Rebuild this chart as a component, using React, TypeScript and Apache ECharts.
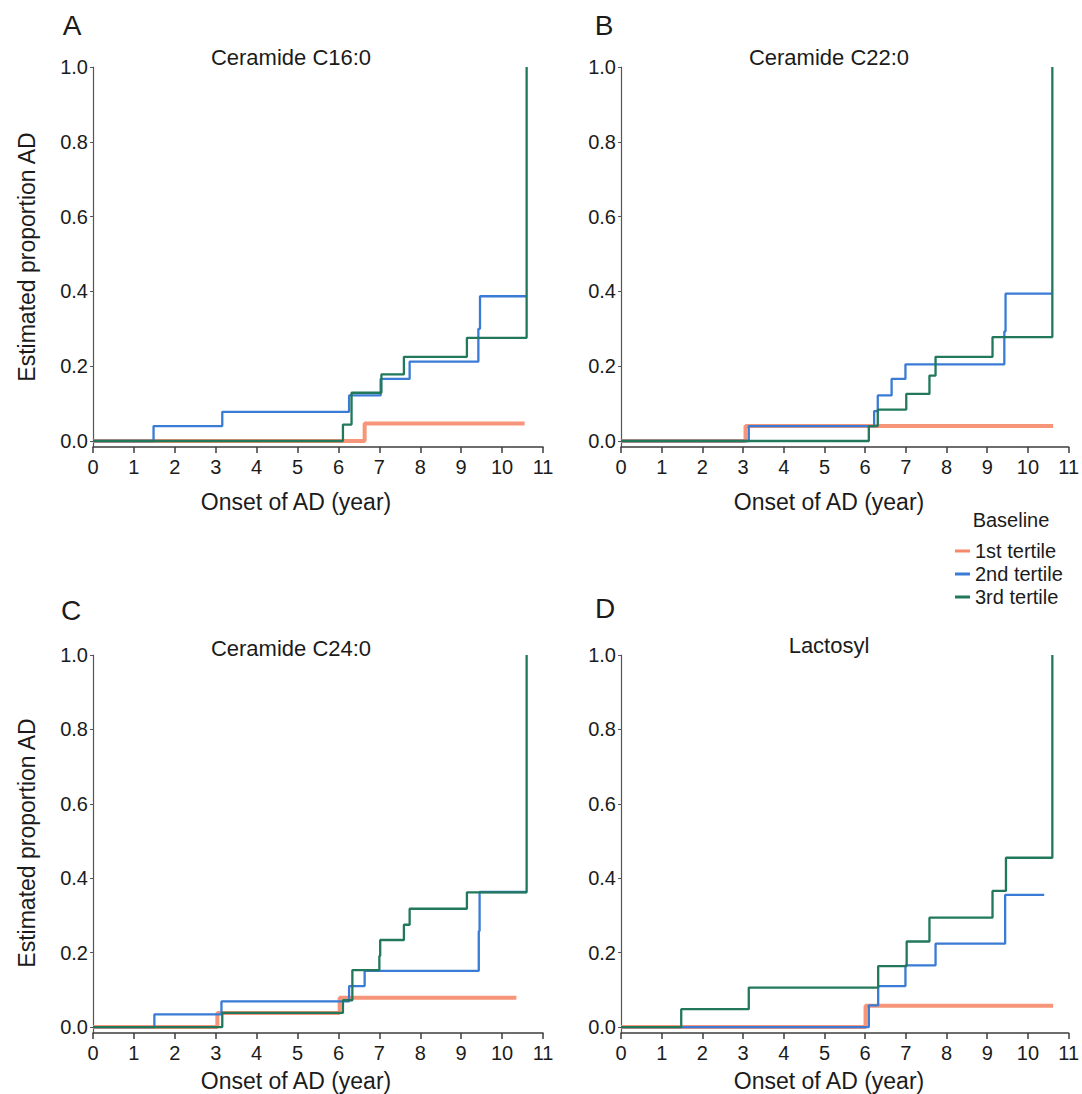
import React, { useEffect, useRef } from "react";
import * as echarts from "echarts";

// ---------- data (years, estimated proportion) ----------
const SERIES_NAMES = ["1st tertile", "2nd tertile", "3rd tertile"];
const X_TICKS = [0, 1, 2, 3, 4, 5, 6, 7, 8, 9, 10, 11];
const Y_TICKS = [0, 0.2, 0.4, 0.6, 0.8, 1.0];
const PANEL_LETTERS = ["A", "B", "C", "D"];
const PANEL_TITLES = ["Ceramide C16:0", "Ceramide C22:0", "Ceramide C24:0", "Lactosyl"];

// Panel A – Ceramide C16:0
const aT1 = [0, 6.64, 10.55];
const aS1 = [0, 0.047, 0.047];
const aT2 = [0, 1.48, 3.16, 6.26, 7.03, 7.74, 9.42, 9.46, 10.6];
const aS2 = [0, 0.04, 0.078, 0.122, 0.166, 0.212, 0.3, 0.387, 0.387];
const aT3 = [0, 6.11, 6.32, 7.05, 7.6, 9.14, 10.6];
const aS3 = [0, 0.044, 0.129, 0.178, 0.225, 0.276, 1.0];

// Panel B – Ceramide C22:0
const bT1 = [0, 3.06, 10.62];
const bS1 = [0, 0.04, 0.04];
const bT2 = [0, 3.14, 6.22, 6.31, 6.65, 6.99, 9.42, 9.45, 10.59];
const bS2 = [0, 0.04, 0.08, 0.122, 0.166, 0.205, 0.293, 0.394, 0.394];
const bT3 = [0, 6.09, 6.31, 7.01, 7.58, 7.73, 9.13, 10.6];
const bS3 = [0, 0.04, 0.084, 0.126, 0.175, 0.225, 0.278, 1.0];

// Panel C – Ceramide C24:0
const cT1 = [0, 3.04, 6.03, 10.35];
const cS1 = [0, 0.038, 0.079, 0.079];
const cT2 = [0, 1.5, 3.14, 6.26, 6.64, 9.43, 9.45, 10.61];
const cS2 = [0, 0.034, 0.069, 0.11, 0.151, 0.258, 0.363, 0.363];
const cT3 = [0, 3.16, 6.11, 6.34, 7.0, 7.02, 7.6, 7.74, 9.14, 10.6];
const cS3 = [0, 0.038, 0.072, 0.153, 0.191, 0.234, 0.275, 0.318, 0.362, 1.0];

// Panel D – Lactosyl
const dT1 = [0, 6.01, 10.62];
const dS1 = [0, 0.057, 0.057];
const dT2 = [0, 6.09, 6.32, 6.99, 7.73, 9.44, 10.4];
const dS2 = [0, 0.058, 0.11, 0.166, 0.224, 0.355, 0.355];
const dT3 = [0, 1.48, 3.14, 6.32, 7.02, 7.58, 9.13, 9.46, 10.6];
const dS3 = [0, 0.048, 0.106, 0.164, 0.23, 0.294, 0.366, 0.455, 1.0];

const PANELS = [
  [[aT1, aS1], [aT2, aS2], [aT3, aS3]],
  [[bT1, bS1], [bT2, bS2], [bT3, bS3]],
  [[cT1, cS1], [cT2, cS2], [cT3, cS3]],
  [[dT1, dS1], [dT2, dS2], [dT3, dS3]],
];

// ---------- styles / layout ----------
const COLORS = ["#f5896a", "#3a7bd6", "#21785a"];
const WIDTHS = [4, 2.3, 2.3];
const FONT = "'Liberation Sans', Arial, Helvetica, sans-serif";
const TXT = "#1b1b1b";
const AXIS = "#3c3c3c";

const GRIDS = [
  { left: 93, top: 67, width: 450, height: 380 },
  { left: 621, top: 67, width: 448, height: 380 },
  { left: 93, top: 655, width: 450, height: 378 },
  { left: 621, top: 655, width: 448, height: 378 },
];
const LETTER_POS = [[72, 25], [604, 25], [71, 610], [605, 608]];
const TITLE_POS = [[291, 57], [829, 57], [291, 648], [829, 645]];
const XNAME_POS = [[296, 502], [829, 502], [296, 1081], [829, 1081]];
const YNAME_POS = [[27, 257], [27, 843]];

function zip(t: number[], s: number[]) {
  return t.map((x, i) => [x, s[i]]);
}

export default function App() {
  const ref = useRef<HTMLDivElement>(null);
  useEffect(() => {
    if (!ref.current) return;
    const chart = echarts.init(ref.current, undefined, { renderer: "svg" });

    const grid = GRIDS.map((g) => ({ ...g, containLabel: false }));
    const xAxis = GRIDS.map((_, i) => ({
      type: "value",
      gridIndex: i,
      min: X_TICKS[0],
      max: X_TICKS[X_TICKS.length - 1],
      interval: 1,
      axisLine: { show: true, onZero: false, lineStyle: { color: AXIS, width: 1.5 } },
      axisTick: { show: true, length: 6, lineStyle: { color: AXIS, width: 1.5 } },
      axisLabel: { color: TXT, fontSize: 20, fontFamily: FONT, margin: 10 },
      splitLine: { show: false },
    }));
    const yAxis = GRIDS.map((_, i) => ({
      type: "value",
      gridIndex: i,
      min: -0.016,
      max: 1,
      axisLine: { show: true, lineStyle: { color: "#555", width: 1.2 } },
      axisTick: { show: true, length: 3, customValues: Y_TICKS, lineStyle: { color: "#555" } },
      axisLabel: {
        color: TXT,
        fontSize: 20,
        fontFamily: FONT,
        margin: 5,
        customValues: Y_TICKS,
        formatter: (v: number) => v.toFixed(1),
      },
      splitLine: { show: false },
    }));

    const series: any[] = [];
    PANELS.forEach((panel, pi) => {
      panel.forEach(([t, s], si) => {
        series.push({
          type: "line",
          name: SERIES_NAMES[si],
          xAxisIndex: pi,
          yAxisIndex: pi,
          step: "end",
          showSymbol: false,
          symbol: "none",
          data: zip(t as number[], s as number[]),
          lineStyle: { color: COLORS[si], width: WIDTHS[si], opacity: si === 0 ? 0.9 : 1 },
          itemStyle: { color: COLORS[si] },
          z: 2 + si,
          silent: true,
        });
      });
    });

    const graphics: any[] = [];
    PANEL_LETTERS.forEach((l, i) => {
      graphics.push({
        type: "text",
        x: LETTER_POS[i][0],
        y: LETTER_POS[i][1],
        style: { text: l, fontSize: 28, fontFamily: FONT, fill: TXT, align: "center", verticalAlign: "middle" },
      });
      graphics.push({
        type: "text",
        x: TITLE_POS[i][0],
        y: TITLE_POS[i][1],
        style: { text: PANEL_TITLES[i], fontSize: 22, fontFamily: FONT, fill: TXT, align: "center", verticalAlign: "middle" },
      });
      graphics.push({
        type: "text",
        x: XNAME_POS[i][0],
        y: XNAME_POS[i][1],
        style: { text: "Onset of AD (year)", fontSize: 23, fontFamily: FONT, fill: TXT, align: "center", verticalAlign: "middle" },
      });
    });
    YNAME_POS.forEach(([x, y]) => {
      graphics.push({
        type: "text",
        x,
        y,
        rotation: Math.PI / 2,
        style: { text: "Estimated proportion AD", fontSize: 23, fontFamily: FONT, fill: TXT, align: "center", verticalAlign: "middle" },
      });
    });
    graphics.push({
      type: "text",
      x: 1011,
      y: 520,
      style: { text: "Baseline", fontSize: 20, fontFamily: FONT, fill: TXT, align: "center", verticalAlign: "middle" },
    });

    chart.setOption({
      animation: false,
      backgroundColor: "#ffffff",
      grid,
      xAxis,
      yAxis,
      series,
      legend: {
        data: SERIES_NAMES,
        orient: "vertical",
        left: 955,
        top: 541,
        padding: 0,
        itemWidth: 15,
        itemHeight: 3,
        itemGap: 3,
        icon: "rect",
        textStyle: { fontSize: 20, fontFamily: FONT, color: TXT },
      },
      graphic: graphics,
    });

    return () => chart.dispose();
  }, []);

  return (
    <div
      ref={ref}
      style={{ position: "absolute", left: 0, top: 0, width: 1082, height: 1094, background: "#fff" }}
    />
  );
}
